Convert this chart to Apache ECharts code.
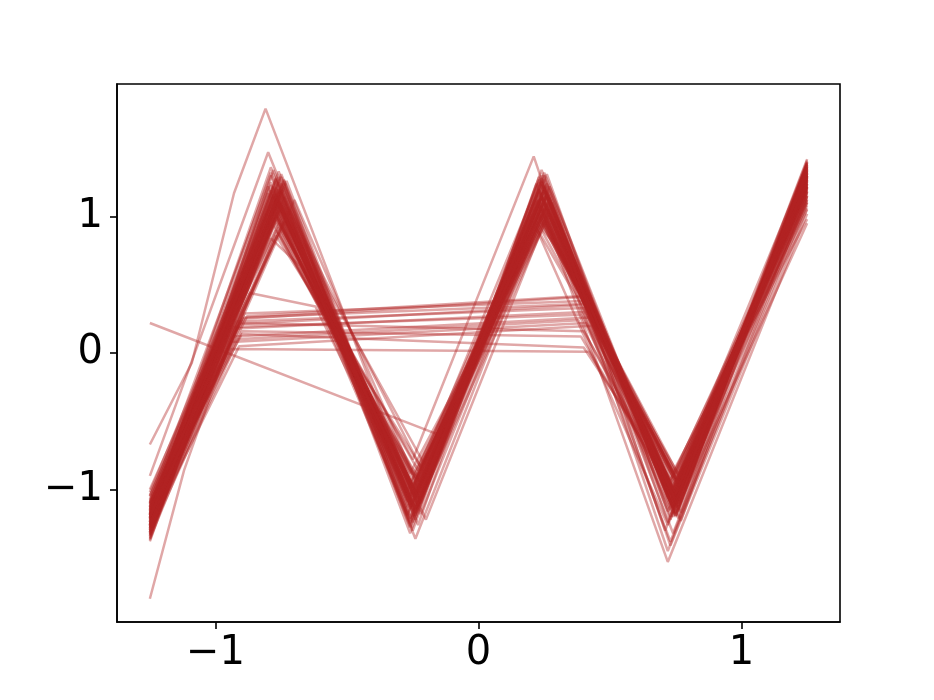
<!DOCTYPE html>
<html>
<head>
<meta charset="utf-8">
<script src="https://cdn.jsdelivr.net/npm/echarts@6/dist/echarts.min.js"></script>
<style>
  html, body { margin: 0; padding: 0; background: #fff; }
  #chart { width: 934px; height: 700px; }
</style>
</head>
<body>
<div id="chart"></div>
<script>
// tick labels
const xTicks = [-1, 0, 1];
const yTicks = [-1, 0, 1];

// main traces: start (-1.25) -> peak1 -> trough1 -> peak2 -> trough2 -> end (1.25)
const startX = -1.25;
const endX = 1.25;
const startY = [-1.21,-1.15,-1.28,-1.33,-1.09,-1.24,-1.18,-1.36,-1.02,-1.27,
  -1.12,-1.30,-1.22,-1.17,-1.38,-1.05,-1.25,-1.31,-1.14,-1.20,
  -1.29,-1.08,-1.34,-1.19,-1.26,-1.11,-1.23,-1.32,-1.16,-1.00,
  -1.28,-1.21,-1.13,-1.35,-1.24,-1.18,-1.07,-1.30,-1.22,-1.26,
  -1.15,-1.33,-1.19,-1.10,-1.27,-1.23,-1.36,-1.14,-1.20,-1.31,
  -1.04,-1.25,-1.17,-1.29,-1.22,-1.12,-1.34,-1.19,-1.27,-1.09,
  -1.24,-1.32,-1.16,-1.21,-1.28,-1.13,-1.37,-1.18,-1.26,-1.11];
const peak1X = [-0.77,-0.76,-0.78,-0.75,-0.79,-0.77,-0.74,-0.76,-0.78,-0.77,
  -0.75,-0.79,-0.76,-0.77,-0.78,-0.74,-0.76,-0.80,-0.77,-0.75,
  -0.78,-0.76,-0.77,-0.79,-0.75,-0.76,-0.78,-0.77,-0.73,-0.76,
  -0.77,-0.79,-0.75,-0.76,-0.78,-0.77,-0.74,-0.76,-0.77,-0.78,
  -0.75,-0.77,-0.79,-0.76,-0.77,-0.75,-0.78,-0.76,-0.77,-0.80,
  -0.76,-0.74,-0.77,-0.78,-0.75,-0.77,-0.76,-0.79,-0.77,-0.75,
  -0.78,-0.76,-0.77,-0.74,-0.76,-0.78,-0.77,-0.75,-0.79,-0.76];
const peak1Y = [1.12,1.25,0.98,1.18,1.30,1.05,1.21,0.92,1.15,1.27,
  1.08,1.19,1.33,1.02,1.14,1.24,0.88,1.17,1.28,1.10,
  1.22,0.95,1.13,1.36,1.06,1.20,1.16,0.90,1.26,1.11,
  1.03,1.23,1.31,1.09,1.18,0.97,1.14,1.29,1.07,1.21,
  1.15,1.01,1.25,1.12,0.86,1.19,1.34,1.08,1.16,1.22,
  1.04,1.27,1.13,0.94,1.20,1.17,1.10,1.32,1.00,1.24,
  1.11,1.18,0.99,1.26,1.14,1.06,1.21,1.29,1.09,1.15];
const trough1X = [-0.25,-0.24,-0.26,-0.23,-0.25,-0.27,-0.24,-0.25,-0.22,-0.26,
  -0.25,-0.24,-0.26,-0.25,-0.23,-0.27,-0.24,-0.25,-0.26,-0.24,
  -0.25,-0.23,-0.26,-0.25,-0.24,-0.27,-0.25,-0.22,-0.24,-0.26,
  -0.25,-0.24,-0.23,-0.26,-0.25,-0.24,-0.27,-0.25,-0.23,-0.26,
  -0.24,-0.25,-0.26,-0.24,-0.22,-0.25,-0.26,-0.24,-0.25,-0.27,
  -0.23,-0.25,-0.24,-0.26,-0.25,-0.24,-0.23,-0.26,-0.25,-0.24,
  -0.27,-0.25,-0.24,-0.26,-0.23,-0.25,-0.24,-0.26,-0.25,-0.22];
const trough1Y = [-1.05,-1.18,-0.96,-1.12,-1.24,-1.01,-1.15,-0.89,-1.09,-1.21,
  -1.03,-1.14,-1.28,-0.98,-1.10,-1.19,-0.93,-1.07,-1.25,-1.02,
  -1.16,-0.86,-1.11,-1.30,-1.04,-1.13,-1.08,-0.95,-1.22,-1.06,
  -0.99,-1.17,-1.26,-1.03,-1.12,-0.91,-1.09,-1.20,-1.00,-1.14,
  -1.07,-0.97,-1.23,-1.05,-0.83,-1.11,-1.32,-1.02,-1.13,-1.18,
  -0.94,-1.15,-1.06,-0.88,-1.10,-1.19,-1.04,-1.27,-0.97,-1.16,
  -1.08,-1.12,-0.92,-1.21,-1.06,-1.01,-1.14,-1.24,-1.03,-1.10];
const peak2X = [0.24,0.25,0.23,0.26,0.24,0.22,0.25,0.24,0.27,0.23,
  0.25,0.24,0.26,0.23,0.25,0.24,0.22,0.26,0.25,0.24,
  0.23,0.25,0.27,0.24,0.26,0.23,0.24,0.25,0.22,0.26,
  0.24,0.25,0.23,0.24,0.26,0.25,0.23,0.24,0.27,0.25,
  0.24,0.22,0.25,0.26,0.24,0.23,0.25,0.24,0.26,0.23,
  0.25,0.24,0.22,0.25,0.26,0.24,0.23,0.25,0.24,0.27,
  0.23,0.25,0.24,0.26,0.22,0.24,0.25,0.23,0.26,0.24];
const peak2Y = [1.10,1.22,1.02,1.16,1.28,1.07,1.19,0.95,1.13,1.25,
  1.05,1.17,1.31,1.00,1.12,1.23,0.92,1.15,1.27,1.08,
  1.20,0.97,1.11,1.34,1.04,1.18,1.14,0.94,1.24,1.09,
  1.01,1.21,1.29,1.06,1.16,0.99,1.12,1.26,1.05,1.19,
  1.13,1.03,1.23,1.10,0.90,1.17,1.32,1.07,1.14,1.20,
  1.02,1.25,1.11,0.96,1.18,1.15,1.08,1.30,0.98,1.22,
  1.09,1.16,1.01,1.24,1.12,1.04,1.19,1.27,1.07,1.13];
const trough2X = [0.75,0.74,0.76,0.73,0.75,0.77,0.74,0.75,0.72,0.76,
  0.74,0.75,0.73,0.76,0.75,0.74,0.77,0.75,0.73,0.74,
  0.76,0.75,0.74,0.72,0.75,0.76,0.74,0.75,0.77,0.73,
  0.75,0.74,0.76,0.75,0.73,0.74,0.75,0.76,0.72,0.75,
  0.74,0.76,0.75,0.73,0.74,0.75,0.77,0.74,0.75,0.76,
  0.73,0.75,0.74,0.76,0.75,0.72,0.74,0.75,0.76,0.74,
  0.75,0.73,0.76,0.74,0.75,0.77,0.74,0.75,0.73,0.76];
const trough2Y = [-1.04,-1.13,-0.95,-1.08,-1.19,-0.99,-1.10,-0.90,-1.06,-1.16,
  -1.01,-1.11,-1.22,-0.96,-1.07,-1.14,-0.92,-1.05,-1.20,-1.00,
  -1.12,-0.88,-1.09,-1.24,-1.03,-1.10,-1.06,-0.94,-1.17,-1.04,
  -0.97,-1.13,-1.21,-1.02,-1.09,-0.91,-1.07,-1.15,-0.98,-1.11,
  -1.05,-0.95,-1.18,-1.03,-0.87,-1.08,-1.23,-1.01,-1.10,-1.14,
  -0.93,-1.12,-1.04,-0.89,-1.07,-1.16,-1.02,-1.20,-0.96,-1.13,
  -1.06,-1.09,-0.92,-1.17,-1.04,-1.00,-1.11,-1.19,-1.02,-1.08];
const endY = [1.28,1.35,1.20,1.31,1.39,1.24,1.33,1.15,1.29,1.37,
  1.22,1.32,1.41,1.18,1.27,1.36,1.10,1.30,1.38,1.25,
  1.34,1.14,1.26,1.40,1.21,1.32,1.28,1.05,1.36,1.23,
  1.19,1.33,1.39,1.25,1.30,1.12,1.27,1.37,1.22,1.31,
  1.29,1.16,1.35,1.24,0.98,1.30,1.40,1.21,1.28,1.34,
  1.17,1.36,1.26,1.08,1.31,1.29,1.23,1.38,1.13,1.33,
  1.24,1.30,1.11,1.36,1.27,1.20,1.32,1.39,1.22,1.28];

// traces that skip the middle: start -> left point -> right point -> trough2 -> end
const flatStartY = [-1.22,-1.15,-1.30,-1.19,-1.26,-1.10,-1.33,-1.21,-1.17,-1.28,-1.24,-1.13,-1.31,-1.20,-1.25,-1.16];
const flatLeftX = [-0.92,-0.90,-0.94,-0.91,-0.89,-0.93,-0.90,-0.92,-0.88,-0.91,-0.93,-0.90,-0.92,-0.89,-0.91,-0.94];
const flatLeftY = [0.18,0.25,0.08,0.21,0.29,0.12,0.16,0.23,0.27,0.05,0.19,0.14,0.10,0.26,0.22,0.03];
const flatRightX = [0.40,0.39,0.41,0.38,0.40,0.42,0.39,0.40,0.41,0.43,0.39,0.40,0.38,0.41,0.40,0.42];
const flatRightY = [0.30,0.41,0.22,0.35,0.38,0.26,0.12,0.33,0.42,0.20,0.28,0.04,0.24,0.36,0.16,0.01];
const flatTroughX = [0.75,0.74,0.76,0.73,0.75,0.74,0.76,0.75,0.73,0.74,0.75,0.76,0.74,0.75,0.73,0.76];
const flatTroughY = [-1.06,-1.12,-0.98,-1.15,-1.03,-1.20,-1.09,-0.94,-1.11,-1.05,-1.17,-1.01,-1.08,-1.13,-0.97,-1.10];
const flatEndY = [1.27,1.33,1.19,1.36,1.24,1.30,1.15,1.38,1.22,1.29,1.34,1.21,1.31,1.26,1.18,1.35];

// the odd ones, read point by point
const oddTraces = [
  [[-1.25,-0.67],[-1.09,-0.07],[-0.93,1.17],[-0.81,1.79],[-0.22,-1.18],[0.25,1.08],[0.74,-1.02],[1.25,1.22]],
  [[-1.25,-0.90],[-0.80,1.47],[-0.26,-1.12],[0.24,1.15],[0.75,-1.08],[1.25,1.30]],
  [[-1.25,-1.80],[-1.12,-0.86],[-0.76,1.10],[-0.25,-1.05],[0.23,1.12],[0.72,-1.53],[1.25,1.02]],
  [[-1.25,0.22],[-0.15,-0.60],[0.26,1.16],[0.75,-1.10],[1.25,1.33]],
  [[-1.25,-1.18],[-0.87,0.44],[-0.62,0.34],[-0.24,-1.14],[0.25,1.20],[0.74,-1.00],[1.25,1.25]],
  [[-1.25,-1.14],[-0.79,0.84],[-0.68,0.64],[-0.25,-0.98],[0.22,0.96],[0.31,0.75],[0.76,-1.12],[1.25,0.95]],
  [[-1.25,-1.26],[-0.78,1.02],[-0.25,-0.78],[0.21,1.44],[0.72,-1.45],[1.25,1.15]],
  [[-1.25,-1.05],[-0.76,1.20],[-0.24,-1.36],[0.25,1.05],[0.73,-1.38],[1.25,1.10]],
  [[-1.25,-1.31],[-0.75,1.08],[-0.21,-0.80],[0.24,1.30],[0.71,-1.30],[1.25,1.42]],
  [[-1.25,-1.20],[-0.72,1.05],[-0.19,-0.95],[0.27,1.02],[0.74,-1.32],[1.25,1.18]],
  [[-1.25,-1.10],[-0.74,0.96],[-0.20,-1.22],[0.28,1.10],[0.73,-1.41],[1.25,1.06]],
  [[-1.25,-1.28],[-0.70,1.12],[-0.22,-1.02],[0.20,1.00],[0.72,-1.26],[1.25,1.12]]
];

const chart = echarts.init(document.getElementById("chart"));

function lineSeries(data) {
  return {
    type: "line",
    data: data,
    symbol: "none",
    silent: true,
    animation: false,
    lineStyle: { color: "#b22222", width: 2.5, opacity: 0.4 },
  };
}

let series = [];
startY.forEach((y0, i) => {
  series.push(lineSeries([
    [startX, y0],
    [peak1X[i], peak1Y[i]],
    [trough1X[i], trough1Y[i]],
    [peak2X[i], peak2Y[i]],
    [trough2X[i], trough2Y[i]],
    [endX, endY[i]],
  ]));
});
flatStartY.forEach((y0, i) => {
  series.push(lineSeries([
    [startX, y0],
    [flatLeftX[i], flatLeftY[i]],
    [flatRightX[i], flatRightY[i]],
    [flatTroughX[i], flatTroughY[i]],
    [endX, flatEndY[i]],
  ]));
});
oddTraces.forEach((t) => series.push(lineSeries(t)));

const fmt = (v) => (v < 0 ? "\u2212" + Math.abs(v) : String(v));

const option = {
  animation: false,
  grid: {
    left: 117, right: 94, top: 84, bottom: 78,
    show: true, borderColor: "#000", borderWidth: 1.6,
  },
  xAxis: {
    type: "value",
    min: -1.375,
    max: 1.375,
    axisLine: { show: true, onZero: false, lineStyle: { color: "#000", width: 1.6 } },
    axisTick: { show: true, length: 7, customValues: xTicks, lineStyle: { color: "#000", width: 1.6 } },
    axisLabel: {
      customValues: xTicks, formatter: fmt, color: "#000",
      fontSize: 40, fontFamily: "DejaVu Sans", margin: 12,
    },
    splitLine: { show: false },
  },
  yAxis: {
    type: "value",
    min: -1.97,
    max: 1.97,
    axisLine: { show: true, onZero: false, lineStyle: { color: "#000", width: 1.6 } },
    axisTick: { show: true, length: 7, customValues: yTicks, lineStyle: { color: "#000", width: 1.6 } },
    axisLabel: {
      customValues: yTicks, formatter: fmt, color: "#000",
      fontSize: 40, fontFamily: "DejaVu Sans", margin: 14,
    },
    splitLine: { show: false },
  },
  series: series,
};

chart.setOption(option);
</script>
</body>
</html>
